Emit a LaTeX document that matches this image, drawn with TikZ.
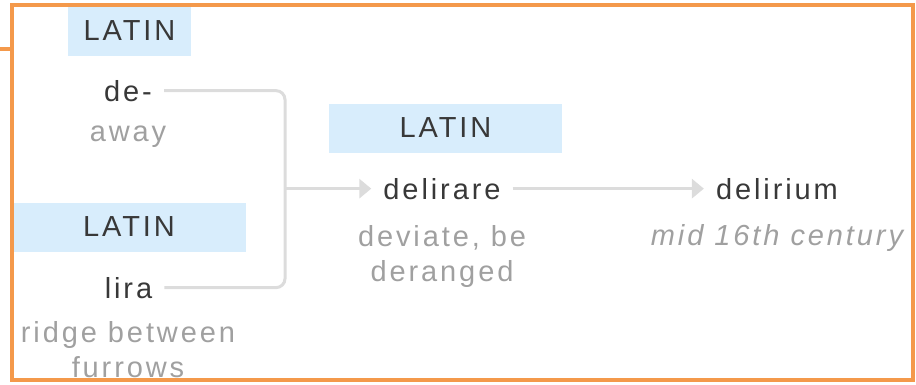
\documentclass[tikz,border=0pt]{standalone}
\usepackage{fontspec}
\setmainfont[LetterSpace=10]{Liberation Sans}
\usetikzlibrary{arrows.meta}
\definecolor{orangeb}{HTML}{F4994B}
\definecolor{bluefill}{HTML}{D8EDFC}
\definecolor{connc}{HTML}{DCDCDC}
\definecolor{darktxt}{HTML}{383838}
\definecolor{graytxt}{HTML}{A0A0A0}
\tikzset{
  lang/.style={fill=bluefill, text=darktxt, inner sep=0pt, minimum height=49pt,
    font=\fontsize{29}{35}\selectfont},
  word/.style={text=darktxt, anchor=base, inner xsep=12pt, inner ysep=0pt,
    font=\fontsize{29}{35}\selectfont},
  gloss/.style={text=graytxt, anchor=base, align=center, inner sep=0pt,
    font=\fontsize{29}{35}\selectfont},
  connline/.style={draw=connc, line width=3pt},
  arr/.style={-{Triangle[length=12pt,width=19pt]}},
  frame/.style={draw=orangeb, line width=3.5pt}
}
\begin{document}
\begin{tikzpicture}[x=1pt,y=-1pt]
\useasboundingbox (0,0) rectangle (916,384);
% language labels
\node[lang, minimum width=123pt] (l1) at (129.5,31) {LATIN};
\node[lang, minimum width=234pt] (l2) at (129,227) {LATIN};
\node[lang, minimum width=233pt] (l3) at (445.5,128) {LATIN};
% words
\node[word] (de) at (128,101) {de-};
\node[gloss] (away) at (128,141) {away};
\node[word] (lira) at (128.5,298) {lira};
\node[gloss] (ridge) at (128,377) {ridge between\\furrows};
\node[word] (delirare) at (442,199) {delirare};
\node[gloss] (dev) at (442,281) {deviate, be\\deranged};
\node[word] (delirium) at (777,199) {delirium};
\node[gloss, font=\fontsize{29}{35}\selectfont\itshape] (mid) at (777,245) {mid 16th century};
% connectors
\coordinate (jx) at (285,0);
\draw[connline, rounded corners=9pt] (de.east) -- (de.east -| jx) -- (lira.east -| jx) -- (lira.east);
\draw[connline, arr] (delirare.west -| jx) -- (delirare.west);
\draw[connline, arr] (delirare.east) -- (delirium.west);
% frame
\draw[frame] (12,5) rectangle (913,380);
\draw[frame] (0,49) -- (12,49);
\end{tikzpicture}
\end{document}
